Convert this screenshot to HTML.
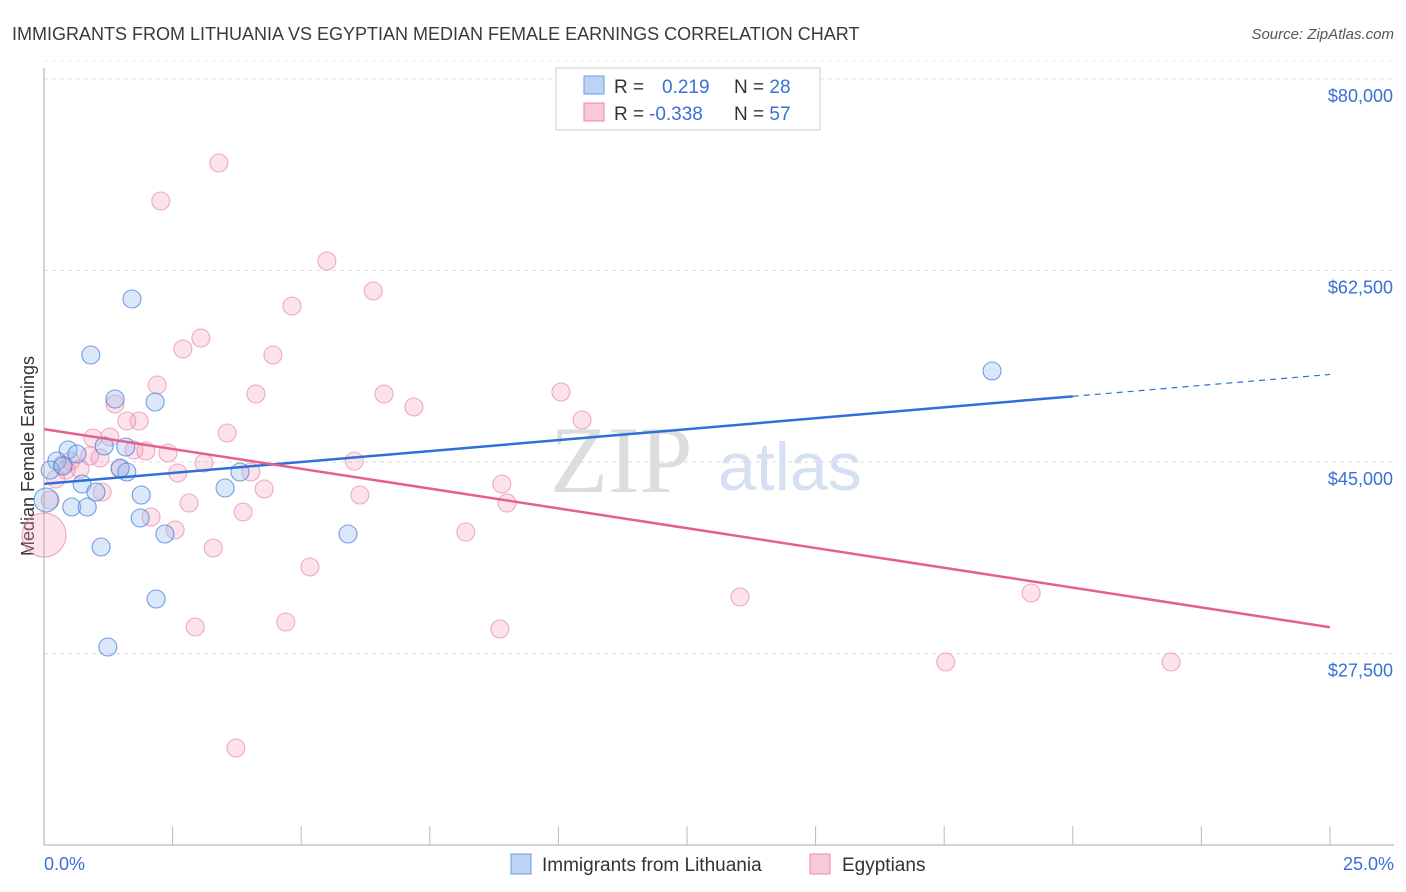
<!DOCTYPE html>
<html><head><meta charset="utf-8"><style>
body{margin:0;background:#fff;font-family:"Liberation Sans",sans-serif}
svg{display:block}
</style></head><body>
<svg id="c" width="1406" height="892">
<text x="12" y="40" font-size="18" fill="#3a3a3a">IMMIGRANTS FROM LITHUANIA VS EGYPTIAN MEDIAN FEMALE EARNINGS CORRELATION CHART</text>
<text x="1394" y="39" font-size="15" fill="#555" font-style="italic" text-anchor="end">Source: ZipAtlas.com</text>
<text x="34" y="456" font-size="18" fill="#333" text-anchor="middle" transform="rotate(-90 34 456)">Median Female Earnings</text>
<text x="550" y="492" font-size="95" fill="#ddd" font-family="Liberation Serif">ZIP</text>
<text x="718" y="490" font-size="68" fill="#d5e1f2">atlas</text>
<g id="grid"></g><g id="pts"></g><g id="lines"></g>
<line x1="44" y1="68" x2="44" y2="845" stroke="#aaa"/>
<line x1="44" y1="845" x2="1394" y2="845" stroke="#aaa"/>
<text x="44" y="870" font-size="18" fill="#3a6fd6">0.0%</text>
<text x="1394" y="870" font-size="18" fill="#3a6fd6" text-anchor="end">25.0%</text>
<g>
<rect x="556" y="68" width="264" height="62" fill="#fff" stroke="#ccc"/>
<rect x="584" y="76" width="20" height="18" fill="#bcd3f5" stroke="#6c9be0"/>
<rect x="584" y="103" width="20" height="18" fill="#f9c9d8" stroke="#e889a8"/>
<text x="614" y="93" font-size="19" fill="#333">R = <tspan fill="#3a6fd6" x="662">0.219</tspan><tspan x="734">N = </tspan><tspan fill="#3a6fd6">28</tspan></text>
<text x="614" y="120" font-size="19" fill="#333">R = <tspan fill="#3a6fd6" x="649">-0.338</tspan><tspan x="734">N = </tspan><tspan fill="#3a6fd6">57</tspan></text>
</g>
<g>
<rect x="511" y="854" width="20" height="20" fill="#bcd3f5" stroke="#6c9be0"/>
<text x="542" y="871" font-size="19" fill="#333">Immigrants from Lithuania</text>
<rect x="810" y="854" width="20" height="20" fill="#f9c9d8" stroke="#e889a8"/>
<text x="842" y="871" font-size="19" fill="#333">Egyptians</text>
</g>
</svg>
<script>
const yTicks=[27500,45000,62500,80000];
const yTickLabels=["$27,500","$45,000","$62,500","$80,000"];
const xTicks=[0,2.5,5,7.5,10,12.5,15,17.5,20,22.5,25];
const bluePx=[[132,299],[91,355],[115,399],[155,402],[68,450],[77,454],[104,446],[57,461],[126,447],[50,470],[63,466],[120,468],[127,472],[82,484],[96,492],[141,495],[225,488],[240,472],[72,507],[87,507],[140,518],[165,534],[101,547],[156,599],[108,647],[348,534],[992,371],[46,500]];
const pinkPx=[[219,163],[161,201],[327,261],[373,291],[292,306],[201,338],[183,349],[273,355],[157,385],[256,394],[384,394],[561,392],[115,404],[414,407],[139,421],[582,420],[127,421],[93,438],[110,437],[227,433],[168,453],[134,450],[146,451],[90,456],[71,461],[204,463],[354,461],[62,465],[80,469],[178,473],[251,472],[120,469],[264,489],[102,492],[502,484],[360,495],[50,500],[189,503],[507,503],[243,512],[151,517],[175,530],[466,532],[213,548],[44,535],[310,567],[740,597],[1031,593],[195,627],[286,622],[500,629],[946,662],[1171,662],[236,748],[56,479],[66,470],[100,458]];
const blueX=bluePx.map(p=>+((p[0]-44)/1286*25).toFixed(2));
const blueY=bluePx.map(p=>Math.round(45000+(462-p[1])*17500/191.5));
const pinkX=pinkPx.map(p=>+((p[0]-44)/1286*25).toFixed(2));
const pinkY=pinkPx.map(p=>Math.round(45000+(462-p[1])*17500/191.5));
const blueTrend=[43000,51000];
const pinkTrend=[48000,29900];
const X=v=>44+v/25*1286, Y=v=>462-(v-45000)*191.5/17500;
const NS="http://www.w3.org/2000/svg";
function mk(t,a,parent){const e=document.createElementNS(NS,t);for(const k in a)e.setAttribute(k,a[k]);parent.appendChild(e);return e;}
const grid=document.getElementById('grid');
yTicks.forEach((t,i)=>{
 const l=mk('line',{x1:44,x2:1394,y1:Y(t),y2:Y(t),stroke:'#ddd','stroke-dasharray':'4,4'},grid);
 
 
 const tx=mk('text',{x:1393,y:Y(t)+23,'font-size':18,fill:'#3a6fd6','text-anchor':'end'},grid);
 tx.textContent=yTickLabels[i];
 
 
});
mk('line',{x1:44,x2:1394,y1:Y(80000)-18,y2:Y(80000)-18,stroke:'#eee','stroke-dasharray':'4,4'},grid);
xTicks.forEach(t=>{
 const l=mk('line',{x1:X(t),x2:X(t),y1:826,y2:845,stroke:'#bbb'},grid);
 
 
});
const pts=document.getElementById('pts');
pinkX.forEach((x,i)=>{
 const big=(i===44);
 const c=mk('circle',{cx:X(x),cy:Y(pinkY[i]),r:big?22:9,fill:'rgba(244,160,188,0.3)',stroke:'rgba(232,120,160,0.6)','stroke-width':1.1},pts);
 
 
});
blueX.forEach((x,i)=>{
 const big=(i===27);
 const c=mk('circle',{cx:X(x),cy:Y(blueY[i]),r:big?12:9,fill:'rgba(150,190,240,0.35)',stroke:'rgba(70,130,220,0.75)','stroke-width':1.1},pts);
 
 
});
const lines=document.getElementById('lines');
const bAt=x=>blueTrend[0]+(blueTrend[1]-blueTrend[0])*x/20;
let l=mk('line',{x1:X(0),y1:Y(bAt(0)),x2:X(20),y2:Y(bAt(20)),stroke:'#2f6fd6','stroke-width':2.5},lines);


l=mk('line',{x1:X(20),y1:Y(bAt(20)),x2:X(25),y2:Y(bAt(25)),stroke:'#2f6fd6','stroke-width':1.2,'stroke-dasharray':'6,5'},lines);


l=mk('line',{x1:X(0),y1:Y(pinkTrend[0]),x2:X(25),y2:Y(pinkTrend[1]),stroke:'#e6608f','stroke-width':2.5},lines);


</script>
</body></html>
